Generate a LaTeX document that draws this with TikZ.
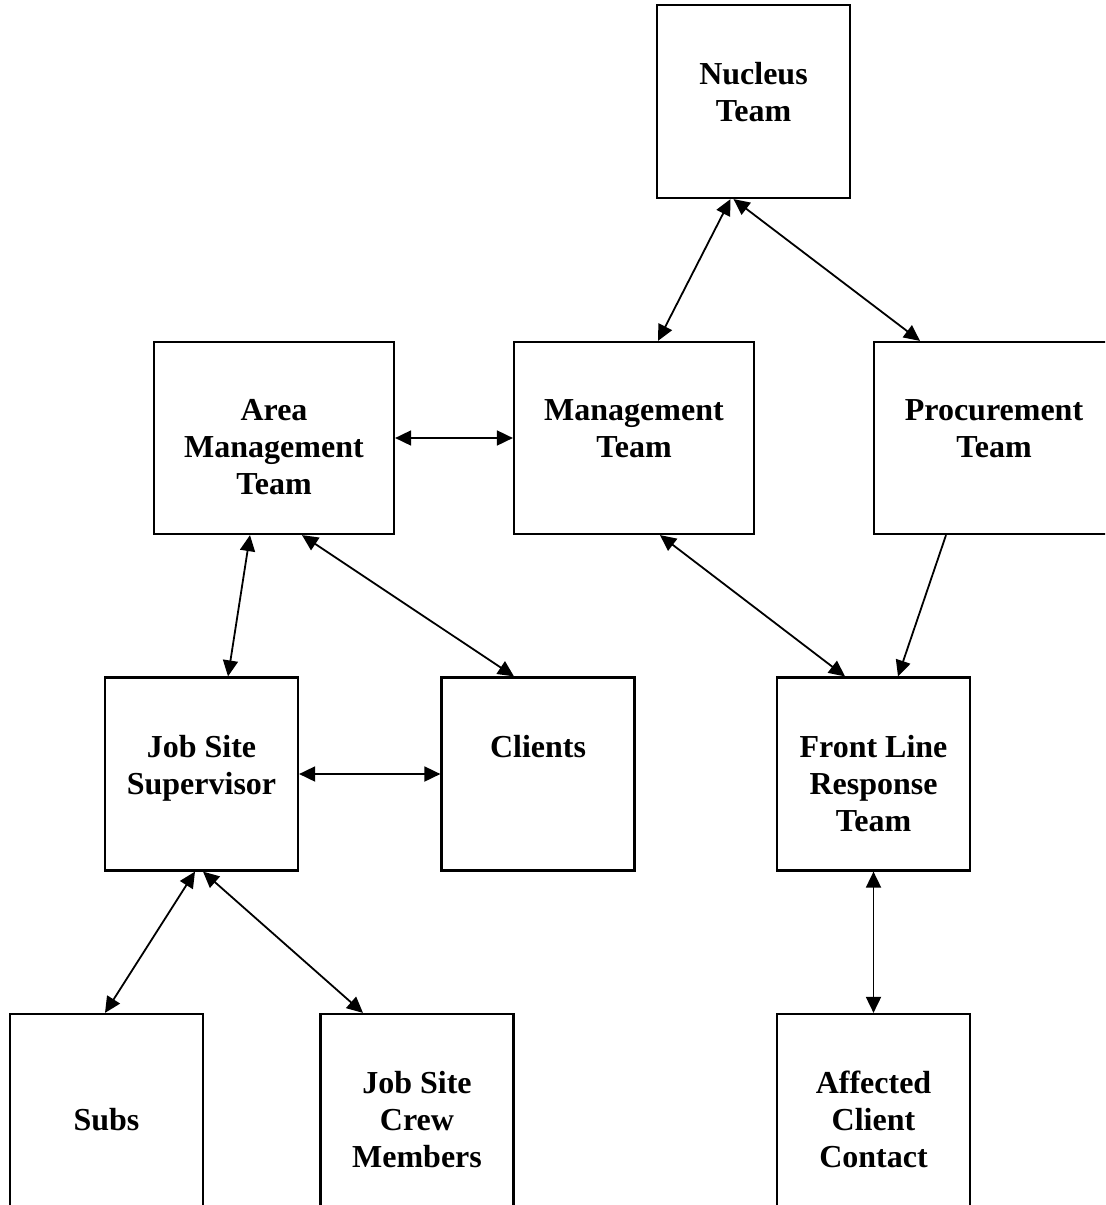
\documentclass[tikz,border=0pt]{standalone}
\usepackage{fontspec}
\setmainfont{Liberation Serif}
\usetikzlibrary{arrows.meta,positioning,calc}

\begin{document}
\begin{tikzpicture}[x=0.5pt, y=-0.5pt,
    box/.style={draw, line width=1.1pt, minimum width=96.5pt, minimum height=96.5pt, inner sep=0pt},
    widebox/.style={box, minimum width=120pt, minimum height=96pt},
    boxtext/.style={align=center, inner sep=0pt, font=\fontsize{16}{18.5}\selectfont\bfseries},
    tip/.tip={Triangle[length=8pt,width=7.5pt]},
    link/.style={line width=0.9pt, tip-tip},
    onelink/.style={line width=0.9pt, -tip}]
    \path[use as bounding box, clip] (0,0) rectangle (1105,1205);

    % boxes
    \node[box] (nucleus) at (753.5,101.5) {};
    \node[widebox] (area) at (274,438) {};
    \node[widebox] (mgmt) at (634,438) {};
    \node[widebox] (procure) at (994,438) {};
    \node[box] (jss) at (201.5,774) {};
    \node[box] (clients) at (538,774) {};
    \node[box] (front) at (873.5,774) {};
    \node[box] (subs) at (106.5,1110.5) {};
    \node[box] (crew) at (417,1110.5) {};
    \node[box] (affected) at (873.5,1110.5) {};

    % texts
    \node[boxtext, below=29pt of nucleus.north] (nucleus-t) {Nucleus\\Team};
    \node[boxtext, below=29pt of area.north] (area-t) {Area\\Management\\Team};
    \node[boxtext, below=29pt of mgmt.north] (mgmt-t) {Management\\Team};
    \node[boxtext, below=29pt of procure.north] (procure-t) {Procurement\\Team};
    \node[boxtext, below=29pt of jss.north] (jss-t) {Job Site\\Supervisor};
    \node[boxtext, below=29pt of clients.north] (clients-t) {Clients};
    \node[boxtext, below=29pt of front.north] (front-t) {Front Line\\Response\\Team};
    \node[boxtext, below=47.5pt of subs.north] (subs-t) {Subs};
    \node[boxtext, below=29pt of crew.north] (crew-t) {Job Site\\Crew\\Members};
    \node[boxtext, below=29pt of affected.north] (affected-t) {Affected\\Client\\Contact};

    % connectors
    \draw[link] ($(nucleus.south)+(-23,0)$) -- ($(mgmt.north)+(24,0)$);
    \draw[link] ($(nucleus.south)+(-20,0)$) -- ($(procure.north)+(-74,0)$);
    \draw[link] (area.east) -- (mgmt.west);
    \draw[link] ($(area.south)+(-24,0)$) -- ($(jss.north)+(26.5,0)$);
    \draw[link] ($(area.south)+(28,0)$) -- ($(clients.north)+(-24,0)$);
    \draw[link] ($(mgmt.south)+(26,0)$) -- ($(front.north)+(-28.5,0)$);
    \draw[onelink] ($(procure.south)+(-48,0)$) -- ($(front.north)+(24.5,0)$);
    \draw[link] (jss.east) -- (clients.west);
    \draw[link] ($(jss.south)+(-6.5,0)$) -- ($(subs.north)+(-1.5,0)$);
    \draw[link] ($(jss.south)+(1.5,0)$) -- ($(crew.north)+(-54,0)$);
    \draw[link] (front.south) -- (affected.north);
\end{tikzpicture}
\end{document}
